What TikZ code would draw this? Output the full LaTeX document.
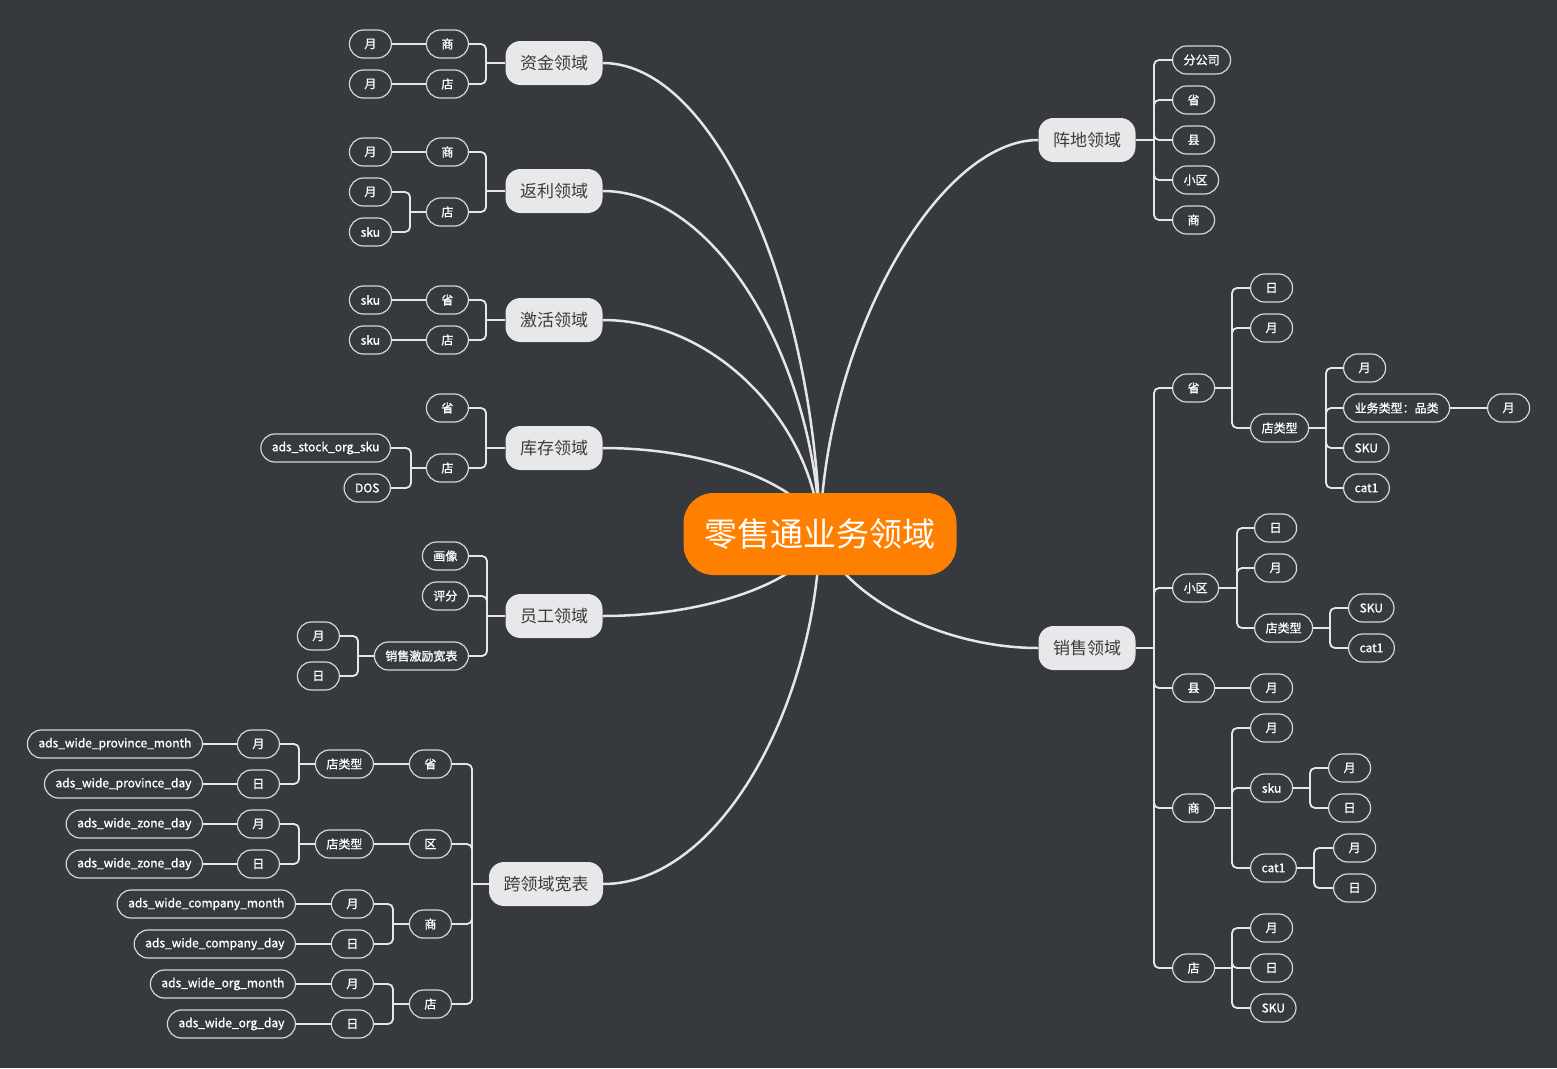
\documentclass[tikz,border=0pt]{standalone}
\usepackage{fontspec}
\setmainfont{Noto Sans CJK SC}
\newfontfamily\leaffont[FakeBold=1.2]{Noto Sans CJK SC}
\definecolor{bgc}{HTML}{36393E}
\definecolor{linec}{HTML}{E6E6E6}
\definecolor{leafline}{HTML}{D6D6D6}
\definecolor{topicfill}{HTML}{E8E8EA}
\definecolor{topictext}{HTML}{3C3C3C}
\definecolor{rootfill}{HTML}{FF8000}
\newcommand{\lfork}[3]{\coordinate (#1-t) at (#2,0 |- #1.west); \draw[conn] (#1.west) -- (#1-t); \foreach \c in {#3} {\draw[conn] (\c.east) -| (#1-t);}}
\newcommand{\rfork}[3]{\coordinate (#1-t) at (#2,0 |- #1.east); \draw[conn] (#1.east) -- (#1-t); \foreach \c in {#3} {\draw[conn] (\c.west) -| (#1-t);}}
\begin{document}
\begin{tikzpicture}[x=1pt,y=-1pt,
 leaf/.style={draw=leafline, line width=1.2pt, fill=bgc, rounded corners=14pt, minimum height=28pt, minimum width=42pt, inner xsep=11pt, inner ysep=0pt, text=white, font=\leaffont\fontsize{12}{14}\selectfont},
 le/.style={leaf, anchor=east},
 ri/.style={leaf, anchor=west},
 topic/.style={fill=topicfill, rounded corners=15pt, minimum height=44pt, inner xsep=14.5pt, inner ysep=0pt, text=topictext, font=\fontsize{17}{20}\selectfont},
 root/.style={fill=rootfill, rounded corners=30pt, minimum height=82pt, minimum width=273pt, inner sep=0pt, text=white, font=\fontsize{33}{38}\selectfont},
 conn/.style={draw=linec, line width=1.8pt, rounded corners=5pt},
 curve/.style={draw=linec, line width=2.5pt}]
\fill[bgc] (0,0) rectangle (1557,1068);
\useasboundingbox (0,0) rectangle (1557,1068);
\coordinate (rc) at (820,534);
% topics
\node[topic] (zj) at (554,63) {资金领域};
\node[topic] (fl) at (554,191) {返利领域};
\node[topic] (jh) at (554,320) {激活领域};
\node[topic] (kc) at (554,448) {库存领域};
\node[topic] (yg) at (554,616) {员工领域};
\node[topic] (kl) at (546,884) {跨领域宽表};
\node[topic] (zd) at (1087,140) {阵地领域};
\node[topic] (xs) at (1087,648) {销售领域};
% main curves
\draw[curve] (zj.east) .. controls +(115,0) and +(-5,-235) .. (rc);
\draw[curve] (fl.east) .. controls +(115,0) and +(-5,-171) .. (rc);
\draw[curve] (jh.east) .. controls +(115,0) and +(-5,-107) .. (rc);
\draw[curve] (kc.east) .. controls +(115,0) and +(-5,-43) .. (rc);
\draw[curve] (yg.east) .. controls +(115,0) and +(-5,41) .. (rc);
\draw[curve] (kl.east) .. controls +(115,0) and +(-5,175) .. (rc);
\draw[curve] (zd.west) .. controls +(-100,0) and +(5,-197) .. (rc);
\draw[curve] (xs.west) .. controls +(-100,0) and +(20,60) .. (rc);
\node[root] (root) at (rc) {零售通业务领域};
% 资金
\node[le] (zj1) at (469,44) {商};
\node[le] (zj2) at (469,84) {店};
\node[le] (zj1a) at (392,44) {月};
\node[le] (zj2a) at (392,84) {月};
\lfork{zj}{486}{zj1,zj2}
\draw[conn] (zj1.west) -- (zj1a.east);
\draw[conn] (zj2.west) -- (zj2a.east);
% 返利
\node[le] (fl1) at (469,152) {商};
\node[le] (fl2) at (469,212) {店};
\node[le] (fl1a) at (392,152) {月};
\node[le] (fl2a) at (392,192) {月};
\node[le] (fl2b) at (392,232) {sku};
\lfork{fl}{486}{fl1,fl2}
\draw[conn] (fl1.west) -- (fl1a.east);
\lfork{fl2}{410}{fl2a,fl2b}
% 激活
\node[le] (jh1) at (469,300) {省};
\node[le] (jh2) at (469,340) {店};
\node[le] (jh1a) at (392,300) {sku};
\node[le] (jh2a) at (392,340) {sku};
\lfork{jh}{486}{jh1,jh2}
\draw[conn] (jh1.west) -- (jh1a.east);
\draw[conn] (jh2.west) -- (jh2a.east);
% 库存
\node[le] (kc1) at (469,408) {省};
\node[le] (kc2) at (469,468) {店};
\node[le] (kc2a) at (391,448) {ads\_stock\_org\_sku};
\node[le] (kc2b) at (391,488) {DOS};
\lfork{kc}{486}{kc1,kc2}
\lfork{kc2}{411}{kc2a,kc2b}
% 员工
\node[le] (yg1) at (469,556) {画像};
\node[le] (yg2) at (469,596) {评分};
\node[le] (yg3) at (469,656) {销售激励宽表};
\node[le] (yg3a) at (340,636) {月};
\node[le] (yg3b) at (340,676) {日};
\lfork{yg}{487}{yg1,yg2,yg3}
\lfork{yg3}{358}{yg3a,yg3b}
% 跨领域宽表
\node[le] (kl1) at (452,764) {省};
\node[le] (kl2) at (452,844) {区};
\node[le] (kl3) at (452,924) {商};
\node[le] (kl4) at (452,1004) {店};
\lfork{kl}{472}{kl1,kl2,kl3,kl4}
\node[le] (kl1t) at (374,764) {店类型};
\node[le] (kl2t) at (374,844) {店类型};
\draw[conn] (kl1.west) -- (kl1t.east);
\draw[conn] (kl2.west) -- (kl2t.east);
\node[le] (kl1a) at (280,744) {月};
\node[le] (kl1b) at (280,784) {日};
\node[le] (kl2a) at (280,824) {月};
\node[le] (kl2b) at (280,864) {日};
\lfork{kl1t}{299}{kl1a,kl1b}
\lfork{kl2t}{299}{kl2a,kl2b}
\node[le] (kl1aa) at (203,744) {ads\_wide\_province\_month};
\node[le] (kl1bb) at (203,784) {ads\_wide\_province\_day};
\node[le] (kl2aa) at (203,824) {ads\_wide\_zone\_day};
\node[le] (kl2bb) at (203,864) {ads\_wide\_zone\_day};
\draw[conn] (kl1a.west) -- (kl1aa.east);
\draw[conn] (kl1b.west) -- (kl1bb.east);
\draw[conn] (kl2a.west) -- (kl2aa.east);
\draw[conn] (kl2b.west) -- (kl2bb.east);
\node[le] (kl3a) at (374,904) {月};
\node[le] (kl3b) at (374,944) {日};
\node[le] (kl4a) at (374,984) {月};
\node[le] (kl4b) at (374,1024) {日};
\lfork{kl3}{393}{kl3a,kl3b}
\lfork{kl4}{393}{kl4a,kl4b}
\node[le] (kl3aa) at (296,904) {ads\_wide\_company\_month};
\node[le] (kl3bb) at (296,944) {ads\_wide\_company\_day};
\node[le] (kl4aa) at (296,984) {ads\_wide\_org\_month};
\node[le] (kl4bb) at (296,1024) {ads\_wide\_org\_day};
\draw[conn] (kl3a.west) -- (kl3aa.east);
\draw[conn] (kl3b.west) -- (kl3bb.east);
\draw[conn] (kl4a.west) -- (kl4aa.east);
\draw[conn] (kl4b.west) -- (kl4bb.east);
% 阵地
\node[ri] (zd1) at (1172,60) {分公司};
\node[ri] (zd2) at (1172,100) {省};
\node[ri] (zd3) at (1172,140) {县};
\node[ri] (zd4) at (1172,180) {小区};
\node[ri] (zd5) at (1172,220) {商};
\rfork{zd}{1154}{zd1,zd2,zd3,zd4,zd5}
% 销售
\node[ri] (xs1) at (1172,388) {省};
\node[ri] (xs2) at (1172,588) {小区};
\node[ri] (xs3) at (1172,688) {县};
\node[ri] (xs4) at (1172,808) {商};
\node[ri] (xs5) at (1172,968) {店};
\rfork{xs}{1154}{xs1,xs2,xs3,xs4,xs5}
\node[ri] (xs1a) at (1250,288) {日};
\node[ri] (xs1b) at (1250,328) {月};
\node[ri] (xs1c) at (1250,428) {店类型};
\rfork{xs1}{1232}{xs1a,xs1b,xs1c}
\node[ri] (xs1c1) at (1343,368) {月};
\node[ri] (xs1c2) at (1343,408) {业务类型：品类};
\node[ri] (xs1c3) at (1343,448) {SKU};
\node[ri] (xs1c4) at (1343,488) {cat1};
\rfork{xs1c}{1326}{xs1c1,xs1c2,xs1c3,xs1c4}
\node[ri] (xs1c2a) at (1487,408) {月};
\draw[conn] (xs1c2.east) -- (xs1c2a.west);
\node[ri] (xs2a) at (1254,528) {日};
\node[ri] (xs2b) at (1254,568) {月};
\node[ri] (xs2c) at (1254,628) {店类型};
\rfork{xs2}{1237}{xs2a,xs2b,xs2c}
\node[ri] (xs2c1) at (1348,608) {SKU};
\node[ri] (xs2c2) at (1348,648) {cat1};
\rfork{xs2c}{1330}{xs2c1,xs2c2}
\node[ri] (xs3a) at (1250,688) {月};
\draw[conn] (xs3.east) -- (xs3a.west);
\node[ri] (xs4a) at (1250,728) {月};
\node[ri] (xs4b) at (1250,788) {sku};
\node[ri] (xs4c) at (1250,868) {cat1};
\rfork{xs4}{1232}{xs4a,xs4b,xs4c}
\node[ri] (xs4b1) at (1328,768) {月};
\node[ri] (xs4b2) at (1328,808) {日};
\rfork{xs4b}{1310}{xs4b1,xs4b2}
\node[ri] (xs4c1) at (1333,848) {月};
\node[ri] (xs4c2) at (1333,888) {日};
\rfork{xs4c}{1314}{xs4c1,xs4c2}
\node[ri] (xs5a) at (1250,928) {月};
\node[ri] (xs5b) at (1250,968) {日};
\node[ri] (xs5c) at (1250,1008) {SKU};
\rfork{xs5}{1232}{xs5a,xs5b,xs5c}
\end{tikzpicture}
\end{document}
